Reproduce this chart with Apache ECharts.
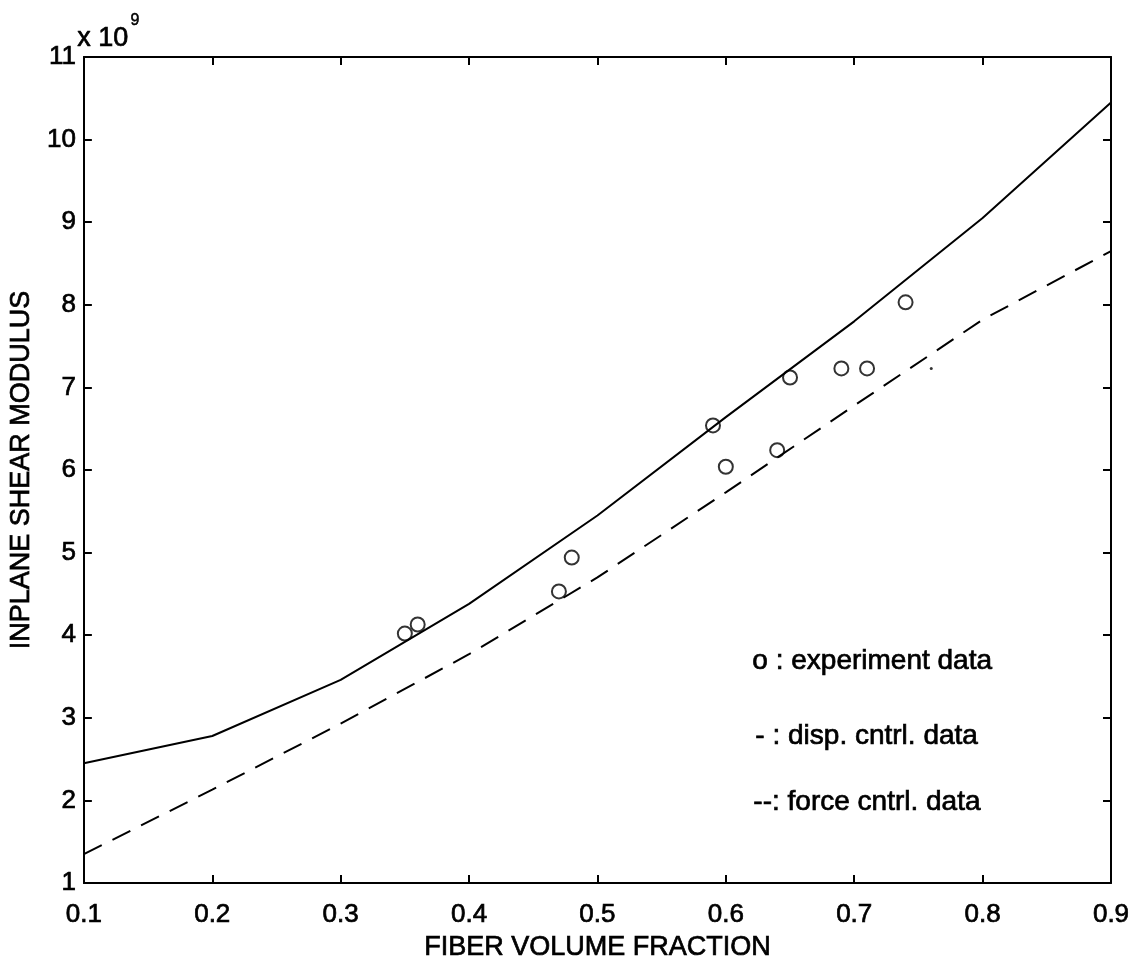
<!DOCTYPE html>
<html>
<head>
<meta charset="utf-8">
<script src="https://cdn.jsdelivr.net/npm/echarts@6/dist/echarts.min.js"></script>
<style>html,body{margin:0;padding:0;background:#fff}#c{width:1137px;height:966px}</style>
</head>
<body>
<div id="c"></div>
<script>
// Data
var xs = [0.1, 0.2, 0.3, 0.4, 0.5, 0.6, 0.7, 0.8, 0.9];
var dispCntrl = [2.45, 2.78, 3.46, 4.38, 5.45, 6.64, 7.80, 9.05, 10.45];
var forceCntrl = [1.35, 2.13, 2.93, 3.77, 4.70, 5.73, 6.78, 7.82, 8.65];
var expX = [0.35, 0.36, 0.47, 0.48, 0.59, 0.60, 0.64, 0.65, 0.69, 0.71, 0.74];
var expY = [4.02, 4.13, 4.53, 4.94, 6.54, 6.04, 6.24, 7.12, 7.23, 7.23, 8.03];
var strayX = [0.76];
var strayY = [7.23];
var xTicks = ['0.1','0.2','0.3','0.4','0.5','0.6','0.7','0.8','0.9'];
var yTicks = ['1','2','3','4','5','6','7','8','9','10','11'];
var legendLines = ['o : experiment data', '- : disp. cntrl. data', '--: force cntrl. data'];

function pairs(a, b) { return a.map(function (v, i) { return [v, b[i]]; }); }

var FONT = '"Liberation Sans", Arial, Helvetica, sans-serif';
var TB = 0.7; // slight stroke to mimic the heavier printed glyphs
var chart = echarts.init(document.getElementById('c'), null, {renderer: 'canvas'});
var axisLine = {show: true, lineStyle: {color: '#000', width: 2}};
var tick = {show: true, inside: true, length: 8, lineStyle: {color: '#000', width: 2}};

chart.setOption({
  backgroundColor: '#fff',
  animation: false,
  grid: {left: 81, right: 26, top: 57, bottom: 80},
  xAxis: [
    {type: 'value', min: 0.1, max: 0.9, interval: 0.1, position: 'bottom',
     axisLine: axisLine, axisTick: tick, splitLine: {show: false},
     axisLabel: {margin: 19, color: '#000', fontFamily: FONT, fontSize: 26,
       textBorderColor: '#000', textBorderWidth: TB,
       formatter: function (v) { var i = Math.round(v * 10) - 1; return xTicks[i] || ''; }},
     name: 'FIBER VOLUME FRACTION', nameLocation: 'middle', nameGap: 46,
     nameTextStyle: {color: '#000', fontFamily: FONT, fontSize: 27, textBorderColor: '#000', textBorderWidth: TB}},
    {type: 'value', min: 0.1, max: 0.9, interval: 0.1, position: 'top',
     axisLine: axisLine, axisTick: tick, axisLabel: {show: false}, splitLine: {show: false}}
  ],
  yAxis: [
    {type: 'value', min: 1, max: 11, interval: 1, position: 'left',
     axisLine: axisLine, axisTick: tick, splitLine: {show: false},
     axisLabel: {margin: 8, color: '#000', fontFamily: FONT, fontSize: 26,
       textBorderColor: '#000', textBorderWidth: TB,
       formatter: function (v) { return yTicks[Math.round(v) - 1] || ''; }},
     name: 'INPLANE SHEAR MODULUS', nameLocation: 'middle', nameGap: 45,
     nameTextStyle: {color: '#000', fontFamily: FONT, fontSize: 27, textBorderColor: '#000', textBorderWidth: TB}},
    {type: 'value', min: 1, max: 11, interval: 1, position: 'right',
     axisLine: axisLine, axisTick: tick, axisLabel: {show: false}, splitLine: {show: false}}
  ],
  series: [
    {type: 'line', data: pairs(xs, dispCntrl), symbol: 'none',
     lineStyle: {color: '#000', width: 2}},
    {type: 'line', data: pairs(xs, forceCntrl), symbol: 'none',
     lineStyle: {color: '#000', width: 2, type: [20, 12]}},
    {type: 'scatter', data: pairs(expX, expY), symbol: 'circle', symbolSize: 14,
     itemStyle: {color: 'rgba(0,0,0,0)', borderColor: '#000', borderWidth: 2}},
    {type: 'scatter', data: pairs(strayX, strayY), symbol: 'circle', symbolSize: 3,
     itemStyle: {color: '#000'}}
  ],
  graphic: [
    {type: 'text', left: 77, top: 12,
     style: {text: '{b|x 10}{s|9}', rich: {
       b: {fontFamily: FONT, fontSize: 27, fill: '#000', stroke: '#000', lineWidth: TB, verticalAlign: 'bottom', lineHeight: 40},
       s: {fontFamily: FONT, fontSize: 16, fill: '#000', stroke: '#000', lineWidth: 0.5, verticalAlign: 'top', lineHeight: 40, padding: [0, 0, 22, 2]}
     }}},
    {type: 'text', left: 752, top: 647, style: {text: legendLines[0], fontFamily: FONT, fontSize: 28, fill: '#000', stroke: '#000', lineWidth: TB}},
    {type: 'text', left: 755, top: 722, style: {text: legendLines[1], fontFamily: FONT, fontSize: 28, fill: '#000', stroke: '#000', lineWidth: TB}},
    {type: 'text', left: 753, top: 788, style: {text: legendLines[2], fontFamily: FONT, fontSize: 28, fill: '#000', stroke: '#000', lineWidth: TB}}
  ]
});
</script>
</body>
</html>
